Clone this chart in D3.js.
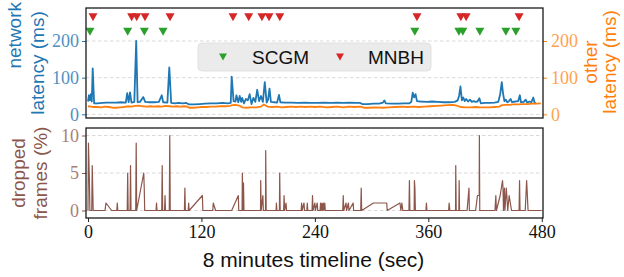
<!DOCTYPE html>
<html>
<head>
<meta charset="utf-8">
<script src="https://cdn.jsdelivr.net/npm/d3@7"></script>
<style>
  body { margin: 0; background: #fff; }
</style>
</head>
<body>
<script>
// ---- data ----
// network latency (ms): [seconds, value]
var networkLatency = [[0,35],[1,52],[2,38],[3,55],[4,35],[5,125],[6.5,30],[10,30],[15,31],[20,32],[25,32],[30,32],[35,33],[40,32],[41.5,58],[43,33],[44.5,60],[46,32],[49,34],[51,200],[52.5,33],[55,34],[58.5,47],[60.5,34],[65,33],[70,33],[75,34],[78,52],[79.5,33],[84,32],[86,128],[88,31],[92,30],[96,31],[100,30],[104,31],[107,27],[112,27],[118,28],[124,29],[130,30],[136,30],[142,31],[148,30],[151,31],[152,103],[154,36],[156,35],[157,52],[159,33],[160.5,50],[162,34],[163,45],[165,30],[167,42],[169,38],[171,55],[173,28],[175,45],[177,34],[179,67],[181,36],[183,50],[185,34],[187,88],[189,32],[190.5,40],[192,70],[193.5,34],[197,33],[200,32],[202,53],[203.5,33],[208,32],[215,32],[222,31],[229,32],[236,31],[243,31],[250,32],[257,31],[264,32],[270,31],[277,32],[283,31],[288,31],[290,28],[296,28],[302,29],[308,29],[312,32],[313.5,38],[315,30],[322,29],[328,29],[334,30],[340,30],[342,34],[343.5,59],[345,46],[346.5,55],[348,36],[352,35],[358,34],[364,35],[370,34],[376,33],[382,33],[388,34],[391,38],[392.5,50],[394,76],[395.5,38],[397,46],[398.5,36],[400,42],[402,35],[404,40],[406,34],[408,36],[410,34],[412,35],[414,44],[415.5,30],[420,31],[425,31],[430,32],[434,34],[436,55],[437.7,88],[439,58],[440.5,36],[442,40],[443.5,33],[445,35],[447,42],[448.5,33],[452,35],[455,36],[456.8,52],[458,33],[461,34],[463,40],[464.5,32],[467,35],[469,33],[471,46],[472.5,30],[474,31]];

// other latency (ms)
var otherLatency = [[0,22],[3,21],[6,20],[10,20],[14,19],[18,21],[22,20],[26,18],[30,18],[34,19],[38,20],[42,22],[46,21],[50,23],[54,24],[58,22],[62,21],[66,22],[70,21],[74,22],[78,21],[82,23],[86,22],[90,21],[94,22],[98,21],[102,22],[105,21],[107,18],[112,18],[116,19],[120,20],[125,20],[130,21],[135,21],[140,22],[145,22],[150,23],[153,25],[156,26],[160,24],[163,19],[168,18],[172,19],[178,19],[183,21],[186,27],[188,24],[190,21],[195,20],[200,21],[205,19],[210,20],[215,21],[220,20],[225,21],[230,20],[235,21],[240,20],[246,21],[252,19],[258,20],[264,21],[270,19],[276,21],[282,20],[288,21],[292,18],[298,18],[305,19],[312,18],[318,19],[325,20],[332,21],[338,20],[344,21],[350,20],[356,21],[362,22],[368,23],[374,24],[380,25],[386,26],[390,24],[394,20],[400,19],[405,19],[410,20],[415,19],[420,19],[425,19],[430,20],[435,21],[438,25],[442,26],[446,26],[450,27],[455,27],[460,28],[465,28],[470,29],[475,29],[479,30]];

// dropped frames (%)
var droppedFrames = [[0,0],[0.5,9],[1.5,4],[2,0],[4,0],[4.5,6],[5.5,0],[18,0],[19,1],[25,0],[30.5,0],[31,1],[31.5,0],[41.5,0],[42,5],[42.5,0],[44.5,0],[45,6],[45.5,0],[50.5,0],[51,9],[51.5,0],[59,5],[59.5,3],[60,0],[72,0],[72.5,1],[73,0],[78,0],[78.5,6],[79,0],[81,0],[81.5,2],[82,0],[86,0],[86.5,10],[87,0],[102,0],[102.5,3],[103,0],[106,0],[106.5,1],[107,0],[121,2],[121.5,0],[132,0],[132.5,1],[135,0],[152,0],[159,2],[159.5,0],[163,0],[163.3,5],[163.8,0],[164.5,3.7],[165,0],[182.5,0],[182.7,4],[183.2,0],[185,2],[185.5,0],[187.8,0],[188,8],[188.5,0],[199,0],[199.3,1],[199.8,0],[202.5,0],[202.8,5],[203.3,0],[207,0],[207.4,2],[208,0],[209.5,1],[210,0],[225.5,0],[226,1],[226.5,0],[228.5,1],[229,0],[231.5,0],[232,1],[232.5,0],[237,0],[237.5,2],[238,0],[240,1],[240.5,0],[242.5,1],[243,0],[245.5,0],[246,1],[246.5,0],[247.5,1],[248,0],[249,1],[249.5,0],[250.5,1],[251,0],[269.5,0],[270,2],[270.5,0],[273,1],[273.5,0],[275.5,1],[276,0],[280.5,1],[281,0],[288.5,0],[289,3],[289.5,0],[302,1],[316,1],[316.5,0],[330,1],[331,0],[332,1],[333,0],[339.5,0],[340,4],[340.5,0],[345,0],[345.3,4],[345.8,3],[346.3,0],[357.5,0],[358,1],[358.5,0],[381.5,0],[382,1],[382.8,0],[388.8,0],[389,6],[389.5,0],[392.3,0],[392.6,4],[393,0],[401,0],[403,3],[403.4,0],[410,0],[412,2],[413.8,2],[414,10],[414.4,0],[430.5,0],[431.4,2],[432,0],[436,2],[438.5,4],[439,3],[439.5,0],[440.5,3],[441,0],[442.5,3],[443,2],[444,0],[445.5,2],[448,0],[456,0],[456.5,4],[457,0],[462.5,0],[464,4],[465.5,0],[480,0]];

// event markers (seconds)
var scgmEvents = [2.1, 42, 59.6, 79.4, 345.7, 392.3, 396.5, 414.5, 442, 452.6];
var mnbhEvents = [5.3, 46.2, 51.5, 60.3, 86.8, 153.4, 170, 184, 191.5, 202.9, 348, 394.4, 400, 456];
var scgmLevel = 225, mnbhLevel = 265;

var xTicks = [0, 120, 240, 360, 480];
var latencyTicks = [0, 100, 200];
var dropTicks = [0, 5, 10];

// ---- chart ----
var blue = '#1f77b4', orange = '#ff7f0e', brown = '#8c564b', green = '#2ca02c', red = '#d62728';
var serif = '"Liberation Serif", "DejaVu Serif", serif';
var sans = '"Liberation Sans", Arial, sans-serif';

var svg = d3.select('body').append('svg').attr('width', 624).attr('height', 277);

var x = d3.scaleLinear().domain([-2.1, 481.3]).range([86, 543]);
var yTop = d3.scaleLinear().domain([-10, 290]).range([118, 8]);
var yBot = d3.scaleLinear().domain([-1, 11]).range([218, 128]);

function grid(scale, ticks) {
  svg.append('g').selectAll('line').data(ticks).enter().append('line')
    .attr('x1', x.range()[0]).attr('x2', x.range()[1])
    .attr('y1', function(d) { return scale(d); })
    .attr('y2', function(d) { return scale(d); })
    .attr('stroke', '#cfcfcf').attr('stroke-width', 0.8)
    .attr('stroke-dasharray', '3.5,2.5');
}
grid(yTop, latencyTicks);
grid(yBot, dropTicks);

function styleAxis(g, color, textColor) {
  g.select('.domain').remove();
  g.selectAll('.tick line').attr('stroke', color);
  g.selectAll('.tick text').attr('fill', textColor)
    .style('font-family', serif).style('font-size', '18px');
}

// lines
var line = function(scale) {
  return d3.line().x(function(d) { return x(d[0]); }).y(function(d) { return scale(d[1]); });
};

svg.append('path').datum(networkLatency)
  .attr('fill', 'none').attr('stroke', blue).attr('stroke-width', 1.8)
  .attr('stroke-linejoin', 'round').attr('d', line(yTop));
svg.append('path').datum(otherLatency)
  .attr('fill', 'none').attr('stroke', orange).attr('stroke-width', 1.8)
  .attr('stroke-linejoin', 'round').attr('d', line(yTop));
svg.append('path').datum(droppedFrames)
  .attr('fill', 'none').attr('stroke', brown).attr('stroke-width', 1.2)
  .attr('stroke-linejoin', 'round').attr('d', line(yBot));

// markers (downward triangles)
var tri = 'M-4.5,-4L4.5,-4L0,4Z';
svg.append('g').selectAll('path').data(scgmEvents).enter().append('path')
  .attr('d', tri).attr('fill', green)
  .attr('transform', function(d) { return 'translate(' + x(d) + ',' + yTop(scgmLevel) + ')'; });
svg.append('g').selectAll('path').data(mnbhEvents).enter().append('path')
  .attr('d', tri).attr('fill', red)
  .attr('transform', function(d) { return 'translate(' + x(d) + ',' + yTop(mnbhLevel) + ')'; });

// axes
svg.append('g').attr('transform', 'translate(86,0)')
  .call(d3.axisLeft(yTop).tickValues(latencyTicks).tickSize(4).tickPadding(3))
  .call(styleAxis, blue, '#4f90c4');
svg.append('g').attr('transform', 'translate(543,0)')
  .call(d3.axisRight(yTop).tickValues(latencyTicks).tickSize(4).tickPadding(4))
  .call(styleAxis, orange, '#ffa24f');
svg.append('g').attr('transform', 'translate(86,0)')
  .call(d3.axisLeft(yBot).tickValues(dropTicks).tickSize(4).tickPadding(3))
  .call(styleAxis, brown, '#a98177');
svg.append('g').attr('transform', 'translate(0,218)')
  .call(d3.axisBottom(x).tickValues(xTicks).tickSize(4).tickPadding(3))
  .call(styleAxis, '#222', '#111');

// frames
[[8, 118], [128, 218]].forEach(function(r) {
  svg.append('rect').attr('x', 86).attr('y', r[0])
    .attr('width', 457).attr('height', r[1] - r[0])
    .attr('fill', 'none').attr('stroke', '#1a1a1a').attr('stroke-width', 1.3);
});

// legend
var legend = svg.append('g');
legend.append('rect').attr('x', 198).attr('y', 43).attr('width', 233).attr('height', 28)
  .attr('rx', 4).attr('fill', '#ebebeb').attr('stroke', '#dcdcdc').attr('stroke-width', 0.8);
legend.append('path').attr('d', 'M-4,-3.5L4,-3.5L0,3.5Z').attr('fill', green)
  .attr('transform', 'translate(223,57)');
legend.append('path').attr('d', 'M-4,-3.5L4,-3.5L0,3.5Z').attr('fill', red)
  .attr('transform', 'translate(340,57)');
legend.append('text').attr('x', 252).attr('y', 64).text('SCGM')
  .style('font-family', sans).style('font-size', '19px').attr('fill', '#111');
legend.append('text').attr('x', 368).attr('y', 64).text('MNBH')
  .style('font-family', sans).style('font-size', '19px').attr('fill', '#111');

// axis labels
function label(text, tx, ty, anchor, color, size) {
  svg.append('text')
    .attr('transform', 'translate(' + tx + ',' + ty + ') rotate(-90)')
    .attr('text-anchor', anchor).attr('fill', color)
    .style('font-family', sans).style('font-size', size + 'px')
    .text(text);
}
label('network', 21, 2, 'end', blue, 19);
label('latency (ms)', 44, 63, 'middle', blue, 19);
label('other', 597, 62, 'middle', orange, 19);
label('latency (ms)', 616, 62, 'middle', orange, 19);
label('dropped', 25, 173, 'middle', brown, 19);
label('frames (%)', 47, 173, 'middle', brown, 19);

svg.append('text').attr('x', 313.5).attr('y', 267).attr('text-anchor', 'middle')
  .style('font-family', sans).style('font-size', '21px').attr('fill', '#111')
  .text('8 minutes timeline (sec)');
</script>
</body>
</html>
